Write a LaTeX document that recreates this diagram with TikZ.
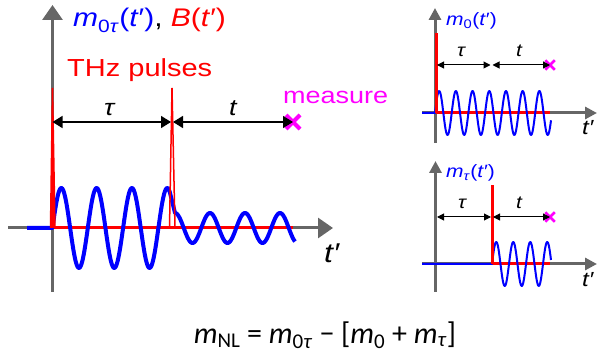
\documentclass[tikz,border=0pt]{standalone}
\usepackage{fontspec}
\setmainfont{Liberation Sans}
\newfontfamily\eqfont{Carlito}
\usetikzlibrary{arrows.meta,shapes.misc}

\definecolor{axgray}{RGB}{102,102,102}
\definecolor{mblue}{RGB}{0,0,255}
\definecolor{bred}{RGB}{255,0,0}
\definecolor{measmag}{RGB}{255,0,255}

\tikzset{
  axbig/.style={axgray, line width=3pt, -{Triangle[length=15pt,width=20pt]}},
  axsmall/.style={axgray, line width=3pt, -{Triangle[length=12pt,width=12pt]}},
  delaybig/.style={line width=1.5pt, {Triangle[length=10pt,width=12pt]}-{Triangle[length=10pt,width=12pt]}},
  delaysmall/.style={line width=1pt, {Triangle[length=7pt,width=7pt]}-{Triangle[length=7pt,width=7pt]}},
  wavebig/.style={mblue, line width=4pt, line join=round},
  wavesmall/.style={mblue, line width=2pt, line join=round},
  pulse/.style={bred, line width=1.5pt},
  base/.style={bred, line width=3pt},
  measbig/.style={cross out, draw=measmag, line width=4pt, minimum size=10pt, inner sep=0pt},
  meassmall/.style={cross out, draw=measmag, line width=2.5pt, minimum size=7pt, inner sep=0pt},
  lbl/.style={anchor=base west, inner sep=0pt, yscale=0.85},
}

\begin{document}
\begin{tikzpicture}[x=1pt, y=-1pt]
  \useasboundingbox (0,0) rectangle (600,358);

  % main panel
  \draw[axbig] (8,228) -- (333,228);
  \draw[axbig] (52.5,292) -- (52.5,5);
  \draw[base] (50,228) -- (293,228);
  \draw[wavebig] (27,228) -- (52.5,228)
    -- plot[domain=52.5:170, samples=160] (\x,{228-40*sin(360/35.3*(\x-52.5))})
    -- plot[domain=175:295, samples=140] (\x,{228-15*cos(360/35*(\x-175))});
  \draw[pulse, fill=bred] (50.5,228) -- (52.5,88) -- (55,228);
  \draw[pulse] (169.5,228) -- (172,88) -- (175,228);

  \coordinate (pA) at (52.5,122);
  \coordinate (pB) at (172,122);
  \node[measbig] (xA) at (293,122) {};
  \draw[delaybig, shorten >=1pt] (pA) -- (pB);
  \draw[delaybig, shorten <=1pt] (pB) -- (xA.center);

  \node[lbl, font=\fontsize{30}{34}\selectfont] (ttl) at (73,27)
    {\color{mblue}\textit{m}\textsubscript{0\textit{τ}}(\textit{t}′)\color{black}, \color{bred}\textit{B}(\textit{t}′)};
  \node[lbl, font=\fontsize{29}{34}\selectfont, bred] (thz) at (67,77) {THz pulses};
  \node[lbl, font=\fontsize{27}{32}\selectfont, measmag] (meas) at (283,104) {measure};
  \node[lbl, font=\fontsize{27}{32}\selectfont\itshape] (tauA) at (104,116) {τ};
  \node[lbl, font=\fontsize{27}{32}\selectfont\itshape] (tA) at (229,116) {t};
  \node[lbl, font=\fontsize{32}{36}\selectfont\itshape] (tpA) at (324,263) {t′};

  % m0 panel
  \draw[axsmall] (422,113) -- (597,113);
  \draw[axsmall] (435,143) -- (435,8);
  \draw[base] (436,113) -- (550,113);
  \draw[wavesmall] (422,113) -- (435,113)
    -- plot[domain=435:551, samples=220] (\x,{113-22*sin(360/16.7*(\x-435))});
  \draw[base] (436,113) -- (436,33);
  \coordinate (pC) at (437,65);
  \coordinate (pD) at (491.5,65);
  \node[meassmall] (xB) at (550,65) {};
  \draw[delaysmall, shorten >=1pt] (pC) -- (pD);
  \draw[delaysmall, shorten <=1pt] (pD) -- (xB.center);
  \node[lbl, font=\fontsize{21}{24}\selectfont, mblue] (ttlB) at (446,26)
    {\textit{m}\textsubscript{0}(\textit{t}′)};
  \node[lbl, font=\fontsize{21}{24}\selectfont\itshape] (tauB) at (457,57) {τ};
  \node[lbl, font=\fontsize{21}{24}\selectfont\itshape] (tB) at (516,57) {t};
  \node[lbl, font=\fontsize{24}{28}\selectfont\itshape] (tpB) at (582,135) {t′};

  % mtau panel
  \draw[axsmall] (422,264) -- (597,264);
  \draw[axsmall] (435.5,292) -- (435.5,161);
  \draw[base] (492,264) -- (550,264);
  \draw[wavesmall] (422,264) -- (492,264)
    -- plot[domain=492:551, samples=120] (\x,{264-22*sin(360/17*(\x-492))});
  \draw[base] (492,264) -- (492,185);
  \coordinate (pE) at (437,217);
  \coordinate (pF) at (492,217);
  \node[meassmall] (xC) at (550,217) {};
  \draw[delaysmall, shorten >=1pt] (pE) -- (pF);
  \draw[delaysmall, shorten <=1pt] (pF) -- (xC.center);
  \node[lbl, font=\fontsize{21}{24}\selectfont, mblue] (ttlC) at (446,178)
    {\textit{m}\textsubscript{\textit{τ}}(\textit{t}′)};
  \node[lbl, font=\fontsize{21}{24}\selectfont\itshape] (tauC) at (458,209) {τ};
  \node[lbl, font=\fontsize{21}{24}\selectfont\itshape] (tC) at (516,209) {t};
  \node[lbl, font=\fontsize{24}{28}\selectfont\itshape] (tpC) at (582,287) {t′};

  % result
  \node[anchor=base, inner sep=0pt, font=\eqfont\fontsize{30}{34}\selectfont] (eq) at (325,343)
    {\textit{m}\textsubscript{NL} = \textit{m}\textsubscript{0\textit{τ}} − [\textit{m}\textsubscript{0} + \textit{m}\textsubscript{\textit{τ}}]};
\end{tikzpicture}
\end{document}
